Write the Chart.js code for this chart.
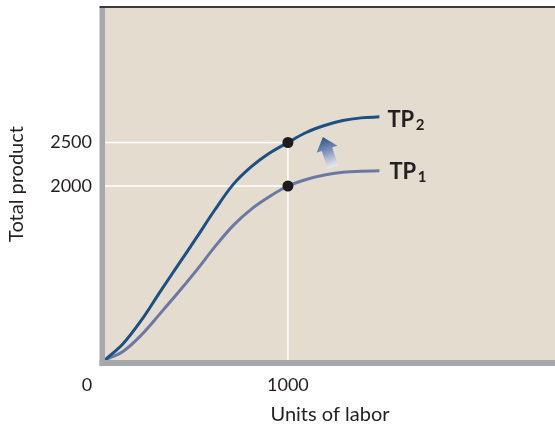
<!DOCTYPE html>
<html>
<head>
<meta charset="utf-8">
<script src="https://cdn.jsdelivr.net/npm/chart.js@4"></script>
<style>
html,body{margin:0;background:#fff}
#wrap{width:555px;height:427px}
</style>
</head>
<body>
<div id="wrap"><canvas id="c"></canvas></div>
<script>
// units of labor and the two total product curves
const labor = [0, 100, 200, 300, 400, 500, 600, 700, 800, 900, 1000, 1100, 1200, 1300, 1400, 1500];
const tp1 = [0, 100, 290, 530, 775, 1030, 1300, 1545, 1735, 1880, 2000, 2075, 2127, 2157, 2170, 2174];
const tp2 = [0, 190, 460, 780, 1093, 1406, 1724, 2016, 2222, 2379, 2500, 2615, 2695, 2752, 2783, 2795];
// marked points at 1000 units
const markX = [1000, 1000];
const markY = [2500, 2000];
const yTicks = [2000, 2500];
const xTicks = [1000];
const xMax = 2460, yMax = 4046;
// shift arrow (data coords): tail -> tip
const arrowFrom = [1246, 2218];
const arrowTo = [1191, 2563];

const FONT = 'Lato';
const INK = '#231f20';

const pts = ys => labor.map((x, i) => ({x: x, y: ys[i]}));

const frame = {
  id: 'frame',
  beforeDraw(chart) {
    const {ctx, chartArea: a} = chart;
    ctx.save();
    ctx.fillStyle = '#e5dcd0';
    ctx.fillRect(a.left, a.top, a.right - a.left, a.bottom - a.top);
    ctx.fillStyle = '#a7a8ac';
    ctx.fillRect(a.left - 5.5, a.top, 5.5, a.bottom - a.top + 6);
    ctx.fillRect(a.left - 5.5, a.bottom, a.right - a.left + 5.5, 6);
    ctx.fillStyle = '#3a3a3a';
    ctx.fillRect(a.left - 5.5, a.top - 2, a.right - a.left + 5.5, 2);
    ctx.restore();
  },
  afterDraw(chart) {
    const {ctx} = chart;
    const xs = chart.scales.x, ys = chart.scales.y;
    ctx.save();
    // origin label
    ctx.fillStyle = INK;
    ctx.font = '18px ' + FONT;
    ctx.textAlign = 'center';
    ctx.textBaseline = 'middle';
    ctx.fillText('0', xs.getPixelForValue(0) - 18, ys.getPixelForValue(0) + 25);

    // curve labels
    const n = labor.length - 1;
    const lab = (ys0, sub, dx, dy) => {
      const px = xs.getPixelForValue(labor[n]) + dx;
      const py = ys.getPixelForValue(ys0[n]) + dy;
      ctx.textAlign = 'left';
      ctx.textBaseline = 'alphabetic';
      ctx.font = 'bold 22px ' + FONT;
      ctx.fillText('TP', px, py);
      const w = ctx.measureText('TP').width;
      ctx.font = 'bold 15px ' + FONT;
      ctx.fillText(sub, px + w + 1.5, py + 3);
    };
    lab(tp2, '2', 8, 10);
    lab(tp1, '1', 10, 8);

    // arrow
    const tx = xs.getPixelForValue(arrowFrom[0]), ty = ys.getPixelForValue(arrowFrom[1]);
    const hx = xs.getPixelForValue(arrowTo[0]), hy = ys.getPixelForValue(arrowTo[1]);
    const L = Math.hypot(hx - tx, hy - ty);
    const ux = (hx - tx) / L, uy = (hy - ty) / L;
    const nx = -uy, ny = ux;
    const hl = 13, hw = 11, sw = 5.5;
    const bx = hx - ux * hl, by = hy - uy * hl;
    const g = ctx.createLinearGradient(tx, ty, hx, hy);
    g.addColorStop(0, 'rgba(235,235,245,0.9)');
    g.addColorStop(0.55, '#7b8fb8');
    g.addColorStop(1, '#2a5488');
    ctx.fillStyle = g;
    ctx.beginPath();
    ctx.moveTo(tx + nx * sw, ty + ny * sw);
    ctx.lineTo(bx + nx * sw, by + ny * sw);
    ctx.lineTo(bx + nx * hw, by + ny * hw);
    ctx.lineTo(hx, hy);
    ctx.lineTo(bx - nx * hw, by - ny * hw);
    ctx.lineTo(bx - nx * sw, by - ny * sw);
    ctx.lineTo(tx - nx * sw, ty - ny * sw);
    ctx.closePath();
    ctx.fill();
    ctx.restore();
  }
};

new Chart(document.getElementById('c'), {
  type: 'line',
  data: {
    datasets: [
      {
        data: markX.map((x, i) => ({x: x, y: markY[i]})),
        showLine: false, pointRadius: 5.5, pointBackgroundColor: '#1d1b1c',
        pointBorderWidth: 0
      },
      {
        data: pts(tp2), borderColor: '#1c4f83', borderWidth: 3,
        pointRadius: 0, tension: 0.35, fill: false
      },
      {
        data: pts(tp1), borderColor: '#6b78a3', borderWidth: 3,
        pointRadius: 0, tension: 0.35, fill: false
      },
      {
        data: [{x: 0, y: markY[0]}, {x: markX[0], y: markY[0]}, {x: markX[0], y: 0}],
        borderColor: '#ffffff', borderWidth: 1.5, pointRadius: 0, tension: 0
      },
      {
        data: [{x: 0, y: markY[1]}, {x: markX[1], y: markY[1]}],
        borderColor: '#ffffff', borderWidth: 1.5, pointRadius: 0, tension: 0
      }
    ]
  },
  options: {
    responsive: true,
    maintainAspectRatio: false,
    animation: false,
    layout: {autoPadding: false, padding: {top: 8, right: 0, left: 0, bottom: 0}},
    plugins: {legend: {display: false}, tooltip: {enabled: false}},
    scales: {
      x: {
        type: 'linear', min: 0, max: xMax,
        afterFit: s => { s.height = 67; s.paddingLeft = 0; s.paddingRight = 0; },
        afterBuildTicks: s => { s.ticks = xTicks.map(v => ({value: v})); },
        grid: {display: false, drawTicks: false},
        border: {display: false},
        ticks: {padding: 14, color: INK, font: {family: FONT, size: 18}, maxRotation: 0,
                callback: v => String(v)},
        title: {display: true, text: 'Units of labor', color: INK,
                font: {family: FONT, size: 20}, padding: {top: 0, bottom: 0}}
      },
      y: {
        type: 'linear', min: 0, max: yMax,
        afterFit: s => { s.width = 105; s.paddingTop = 0; s.paddingBottom = 0; },
        afterBuildTicks: s => { s.ticks = yTicks.map(v => ({value: v})); },
        grid: {display: false, drawTicks: false},
        border: {display: false},
        ticks: {padding: 13, color: INK, font: {family: FONT, size: 18},
                callback: v => String(v)},
        title: {display: true, text: 'Total product', color: INK,
                font: {family: FONT, size: 20}, padding: {top: 5, bottom: 5}}
      }
    }
  },
  plugins: [frame]
});
</script>
</body>
</html>
